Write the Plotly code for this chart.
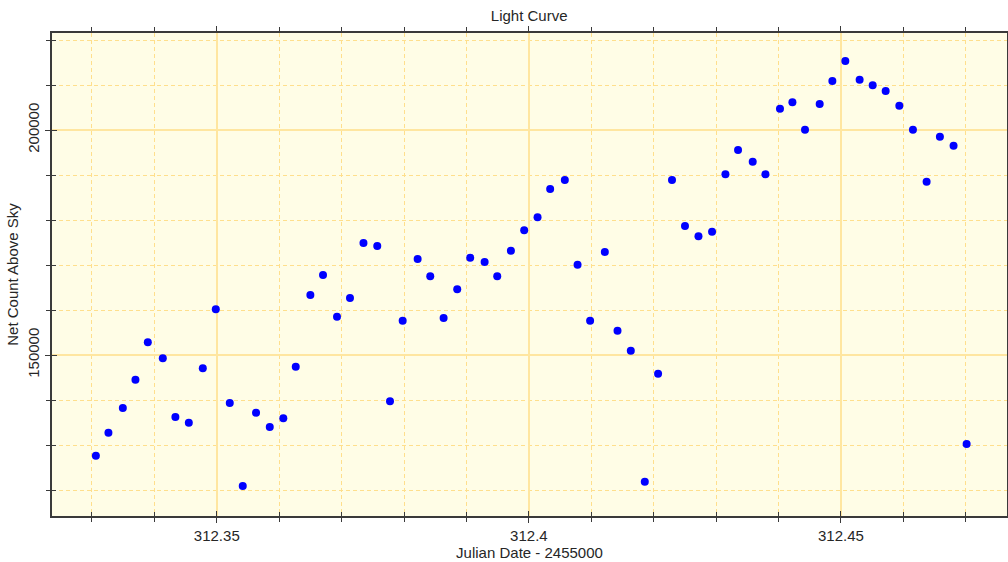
import plotly.graph_objects as go

julian_date = [
    312.33063, 312.33264, 312.33495, 312.33697, 312.33895, 312.34135, 312.34337, 312.34552,
    312.34776, 312.34984, 312.35208, 312.35416, 312.35629, 312.35849, 312.36066, 312.36265,
    312.36499, 312.36702, 312.36926, 312.37134, 312.37350, 312.37571, 312.37775, 312.37978,
    312.38218, 312.38420, 312.38634, 312.38852, 312.39060, 312.39291, 312.39493, 312.39712,
    312.39925, 312.40139, 312.40341, 312.40576, 312.40780, 312.40981, 312.41217, 312.41420,
    312.41633, 312.41857, 312.42070, 312.42293, 312.42501, 312.42717, 312.42935, 312.43149,
    312.43351, 312.43586, 312.43790, 312.44023, 312.44222, 312.44424, 312.44659, 312.44862,
    312.45070, 312.45299, 312.45508, 312.45716, 312.45935, 312.46153, 312.46372, 312.46585,
    312.46804, 312.47013,
]
net_count = [
    127629, 132740, 138228, 144517, 152827, 149272, 136229, 134962,
    147050, 160160, 139339, 120897, 137184, 134007, 135940, 147405,
    163337, 167781, 158515, 162670, 174891, 174225, 139717, 157626,
    171336, 167492, 158226, 164604, 171625, 170670, 167492, 173180,
    177713, 180602, 186890, 188890, 170070, 157626, 172892, 155404,
    150960, 121852, 145850, 188890, 178669, 176380, 177402, 190157,
    195556, 192956, 190157, 204733, 206155, 200067, 205777, 210888,
    215332, 211177, 209932, 208666, 205399, 200067, 188512, 198511,
    196511, 130229,
]

x_tick_values = [312.35, 312.40, 312.45]
x_tick_labels = ["312.35", "312.4", "312.45"]
y_tick_values = [150000, 200000]
y_tick_labels = ["150000", "200000"]

x_range = [312.3236, 312.4766]
y_range = [114222, 221556]

font_family = "Liberation Sans, Arial, sans-serif"
text_color = "#262626"
axis_color = "#3a3a3a"
major_grid = "#FFE6A0"
minor_grid = "#FFDF8C"
dash = "4px,3px"

fig = go.Figure()
fig.add_trace(go.Scatter(
    x=julian_date, y=net_count, mode="markers",
    marker=dict(color="#0000FF", size=8, symbol="circle"),
    showlegend=False, hoverinfo="x+y",
))
# invisible copy to drive overlay axes (inner half of crossing ticks)
fig.add_trace(go.Scatter(
    x=julian_date, y=net_count, mode="markers", xaxis="x2", yaxis="y2",
    marker=dict(color="rgba(0,0,0,0)", size=1),
    showlegend=False, hoverinfo="skip",
))

fig.update_layout(
    width=1008, height=562,
    margin=dict(l=52, r=1, t=33, b=46, autoexpand=False),
    paper_bgcolor="white",
    plot_bgcolor="#FFFDE6",
    font=dict(family=font_family, size=15, color=text_color),
    title=dict(text="Light Curve", x=0.525, xanchor="center", y=1 - 16 / 562, yanchor="middle",
               font=dict(family=font_family, size=15, color=text_color)),
    xaxis=dict(
        range=x_range, tickmode="array", tickvals=x_tick_values, ticktext=x_tick_labels,
        automargin=False,
        title=dict(text="Julian Date - 2455000", standoff=0, font=dict(size=15)),
        showgrid=True, gridcolor=major_grid, gridwidth=2,
        showline=True, linecolor=axis_color, linewidth=2, mirror="ticks",
        ticks="outside", ticklen=5, tickwidth=1, tickcolor=axis_color, zeroline=False,
        minor=dict(dtick=0.01, tick0=312.35, ticks="outside", ticklen=4, tickcolor=axis_color,
                   showgrid=True, gridcolor=minor_grid, griddash=dash, gridwidth=1),
    ),
    yaxis=dict(
        range=y_range, tickmode="array", tickvals=y_tick_values, ticktext=y_tick_labels,
        automargin=False,
        title=dict(text="Net Count Above Sky", standoff=3, font=dict(size=15)),
        showgrid=True, gridcolor=major_grid, gridwidth=2,
        showline=True, linecolor=axis_color, linewidth=2, mirror="ticks",
        ticks="outside", ticklen=5, tickwidth=1, tickcolor=axis_color,
        tickangle=-90, zeroline=False,
        minor=dict(dtick=10000, tick0=0, ticks="outside", ticklen=4, tickcolor=axis_color,
                   showgrid=True, gridcolor=minor_grid, griddash=dash, gridwidth=1),
    ),
    xaxis2=dict(
        range=x_range, tickmode="array", tickvals=x_tick_values,
        overlaying="x", side="bottom", anchor="y2", automargin=False,
        showgrid=False, showline=False, showticklabels=False, zeroline=False,
        ticks="inside", ticklen=5, tickwidth=1, tickcolor=axis_color,
        minor=dict(dtick=0.01, tick0=312.35, ticks="inside", ticklen=4, tickcolor=axis_color, showgrid=False),
    ),
    yaxis2=dict(
        range=y_range, tickmode="array", tickvals=y_tick_values,
        overlaying="y", side="left", anchor="x2", automargin=False,
        showgrid=False, showline=False, showticklabels=False, zeroline=False,
        ticks="inside", ticklen=5, tickwidth=1, tickcolor=axis_color,
        minor=dict(dtick=10000, tick0=0, ticks="inside", ticklen=4, tickcolor=axis_color, showgrid=False),
    ),
)

fig.write_html("out.html", config={"displayModeBar": False},
               post_script="document.body.style.margin='0';")
